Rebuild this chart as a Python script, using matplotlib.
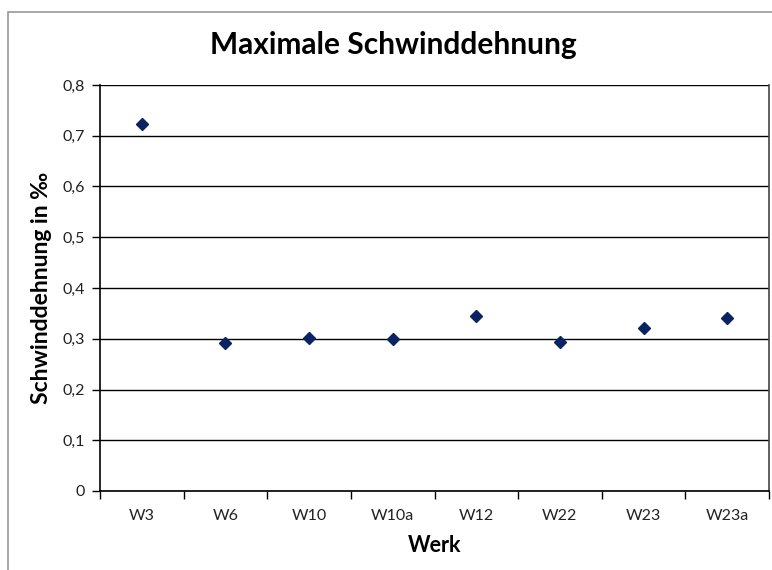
import matplotlib.pyplot as plt
from matplotlib.patches import Rectangle
from matplotlib.ticker import FuncFormatter, MultipleLocator

# Maximale Schwinddehnung je Werk
werke = ["W3", "W6", "W10", "W10a", "W12", "W22", "W23", "W23a"]
dehnung = [0.723, 0.291, 0.301, 0.300, 0.345, 0.294, 0.321, 0.341]

plt.rcParams['font.family'] = ['Lato', 'DejaVu Sans']

W, H = 772, 570
fig = plt.figure(figsize=(W / 100, H / 100), dpi=100)

# outer chart frame (grey)
fig.patches.append(Rectangle((8 / W, -0.1), 1.2, 1 - 12 / H + 0.1,
                             transform=fig.transFigure, fill=False,
                             edgecolor='#999999', lw=1.2))

ax = fig.add_axes([100 / W, 1 - 491 / H, 669 / W, 406 / H])
x = list(range(len(werke)))
ax.plot(x, dehnung, linestyle='none', marker='D', markersize=6.2,
        color='#0a2463', zorder=3)

ax.set_xlim(-0.5, len(werke) - 0.5)
ax.set_ylim(0, 0.8)
ax.yaxis.set_major_locator(MultipleLocator(0.1))
ax.yaxis.set_major_formatter(FuncFormatter(
    lambda v, p: "0" if abs(v) < 1e-9 else f"{v:.1f}".replace(".", ",")))
ax.grid(axis='y', color='black', lw=1)
ax.set_axisbelow(True)

ax.set_xticks([i + 0.5 for i in range(-1, len(werke))], minor=False)
ax.set_xticklabels([])
ax.set_xticks(x, minor=True)
ax.set_xticklabels(werke, minor=True)
ax.tick_params(axis='x', which='minor', length=0, pad=13, labelsize=11.5,
               labelcolor='#222222')
ax.tick_params(axis='x', which='major', length=6, direction='out', width=1)
ax.tick_params(axis='y', length=6, direction='out', width=1, labelsize=11.5,
               pad=5, labelcolor='#222222')

ax.spines['top'].set_visible(False)
ax.spines['right'].set_linewidth(1.2)
ax.spines['right'].set_color('#444444')
ax.spines['left'].set_linewidth(1.2)
ax.spines['bottom'].set_linewidth(1.2)

fig.text(393 / W, 1 - 45 / H, "Maximale Schwinddehnung", ha='center',
         va='center', fontsize=21.5, fontweight='bold')
fig.text(42 / W, 1 - 288 / H, "Schwinddehnung in ‰", ha='center',
         va='center', rotation=90, fontsize=16.5, fontweight='bold')
fig.text(435 / W, 1 - 546 / H, "Werk", ha='center', va='center',
         fontsize=15.5, fontweight='bold')

fig.savefig("out.png", dpi=100)
